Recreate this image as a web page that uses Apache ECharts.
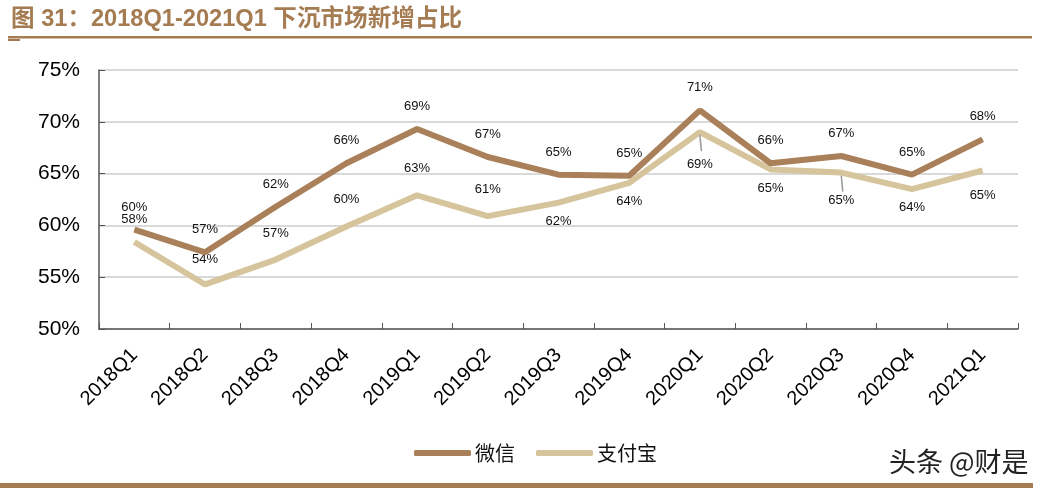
<!DOCTYPE html>
<html><head><meta charset="utf-8">
<script src="https://cdn.jsdelivr.net/npm/echarts@6/dist/echarts.min.js"></script>
<style>html,body{margin:0;padding:0;background:#fff;}#c{width:1044px;height:493px;}</style>
</head><body><div id="c"></div>
<script>
const titleText = '图 31：2018Q1-2021Q1 下沉市场新增占比';
const categories = ['2018Q1','2018Q2','2018Q3','2018Q4','2019Q1','2019Q2','2019Q3','2019Q4','2020Q1','2020Q2','2020Q3','2020Q4','2021Q1'];
const wechat = [59.6, 57.4, 61.8, 66.0, 69.3, 66.6, 64.9, 64.8, 71.1, 66.0, 66.7, 64.9, 68.3];
const alipay = [58.4, 54.3, 56.7, 59.9, 62.9, 60.9, 62.2, 64.1, 69.0, 65.4, 65.1, 63.5, 65.3];
const seriesNames = ['微信', '支付宝'];
const watermark = '头条 @财是';

// style config: which alipay labels sit above the line, which have leader lines
const alipayAbove = [0, 1, 2, 3, 4, 5];
const alipayLeader = [8, 10];
const alipayDist = { 0: 16, 1: 18, 2: 20, 3: 20, 4: 20, 5: 20, 8: 26, 10: 21, 12: 18 };

const C1 = '#a98059', C2 = '#d6c49c', TC = '#a57c52';
const fmt = p => Math.round(p.value) + '%';

const alipayData = alipay.map((v, i) => {
  const above = alipayAbove.includes(i);
  const d = alipayDist[i] !== undefined ? alipayDist[i] : 12;
  return { value: v, label: { position: above ? 'top' : 'bottom', distance: d } };
});

const chart = echarts.init(document.getElementById('c'));
chart.setOption({
  animation: false,
  textStyle: { fontFamily: 'Arial, "Liberation Sans", sans-serif' },
  title: {
    text: titleText, left: 6, top: 3,
    textStyle: { color: TC, fontSize: 23.6, fontWeight: 'bold', fontFamily: '"Liberation Sans", "Noto Sans CJK SC", sans-serif' }
  },
  graphic: [
    { type: 'rect', shape: { x: 8, y: 36, width: 1024, height: 2.5 }, style: { fill: TC } },
    { type: 'rect', shape: { x: 8, y: 39, width: 12, height: 2 }, style: { fill: TC } },
    { type: 'rect', shape: { x: 0, y: 483, width: 1033, height: 5 }, style: { fill: TC } },
    { type: 'text', left: 889, top: 448, style: { text: watermark, fill: '#222', fontSize: 27, fontFamily: '"Noto Sans CJK SC", sans-serif' } }
  ],
  legend: {
    data: seriesNames, left: 409, top: 438, itemWidth: 57, itemHeight: 6, itemGap: 21,
    icon: 'roundRect',
    textStyle: { fontSize: 20, color: '#111', padding: [0, 0, 0, -1], fontFamily: '"Noto Sans CJK SC", sans-serif' }
  },
  grid: { left: 99, right: 26, top: 70, bottom: 164 },
  xAxis: {
    type: 'category', data: categories, boundaryGap: true,
    axisLine: { lineStyle: { color: '#555', width: 1.5 } },
    axisTick: { show: true, inside: true, length: 6, lineStyle: { color: '#555' } },
    axisLabel: { rotate: 45, fontSize: 20, color: '#000', margin: 23 }
  },
  yAxis: {
    type: 'value', min: 50, max: 75, interval: 5,
    axisLine: { show: true, lineStyle: { color: '#555', width: 1.5 } },
    axisTick: { show: true, inside: true, length: 6, lineStyle: { color: '#555' } },
    axisLabel: { formatter: '{value}%', fontSize: 21, color: '#000', margin: 19 },
    splitLine: { lineStyle: { color: '#d9d9d9', width: 2 } }
  },
  series: [
    {
      name: seriesNames[0], type: 'line', data: wechat, symbol: 'circle', symbolSize: 0.1, showSymbol: true,
      lineStyle: { color: C1, width: 6 }, itemStyle: { color: C1 },
      label: { show: true, position: 'top', distance: 16, formatter: fmt, fontSize: 13, color: '#111' },
      z: 3
    },
    {
      name: seriesNames[1], type: 'line', data: alipayData, symbol: 'circle', symbolSize: 0.1, showSymbol: true,
      lineStyle: { color: C2, width: 6 }, itemStyle: { color: C2 },
      label: { show: true, formatter: fmt, fontSize: 13, color: '#111' },
      z: 2
    }
  ]
});

// leader lines for labels pushed away from the line (placed through the chart's own scale)
const leaders = alipayLeader.map((i, k) => {
  const p = chart.convertToPixel({ seriesIndex: 1 }, [i, alipay[i]]);
  return { id: 'ld' + k, type: 'line', shape: { x1: p[0], y1: p[1] + 3, x2: p[0] + 1.5, y2: p[1] + 19 }, style: { stroke: '#999', lineWidth: 1.5 }, z: 10 };
});
chart.setOption({ graphic: leaders });
</script>
</body></html>
